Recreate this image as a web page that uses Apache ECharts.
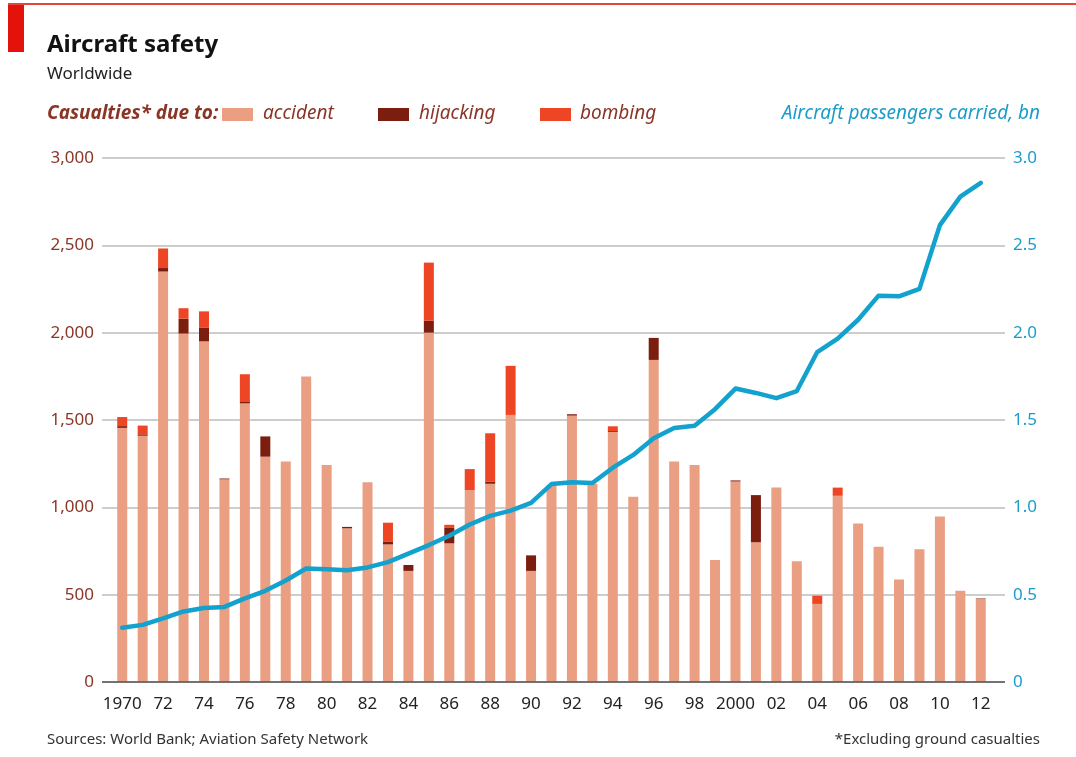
<!DOCTYPE html>
<html>
<head>
<meta charset="utf-8">
<script src="https://cdn.jsdelivr.net/npm/echarts@6/dist/echarts.min.js"></script>
<style>
html,body{margin:0;padding:0;background:#fff;}
#c{width:1076px;height:757px;}
</style>
</head>
<body>
<div id="c"></div>
<script>
const years = [1970,1971,1972,1973,1974,1975,1976,1977,1978,1979,1980,1981,1982,1983,1984,1985,1986,1987,1988,1989,1990,1991,1992,1993,1994,1995,1996,1997,1998,1999,2000,2001,2002,2003,2004,2005,2006,2007,2008,2009,2010,2011,2012];
const accident = [1455,1410,2350,1995,1950,1160,1595,1290,1263,1749,1243,880,1143,788,636,2000,794,1099,1135,1529,636,1125,1525,1135,1432,1060,1844,1263,1243,699,1148,800,1113,691,447,1066,908,774,587,760,947,522,475];
const hijacking = [10,8,20,85,80,5,12,116,0,0,0,8,0,14,34,68,88,0,13,0,89,0,8,0,5,0,126,0,0,0,6,270,0,0,0,0,0,0,0,0,0,0,3];
const bombing = [52,50,112,60,92,0,155,0,0,0,0,0,0,110,0,333,18,120,276,281,0,0,0,0,27,0,0,0,0,0,0,0,0,0,47,47,0,0,0,0,0,0,0];
const passengers = [0.311,0.327,0.364,0.404,0.424,0.430,0.479,0.522,0.581,0.650,0.646,0.640,0.656,0.686,0.735,0.784,0.837,0.902,0.951,0.981,1.026,1.133,1.144,1.139,1.227,1.300,1.395,1.454,1.467,1.562,1.680,1.655,1.625,1.666,1.889,1.966,2.074,2.212,2.208,2.251,2.616,2.779,2.858];
const leftTicks = [0,500,1000,1500,2000,2500,3000];
const rightTicks = [0,0.5,1.0,1.5,2.0,2.5,3.0];

const FONT = '"Noto Sans", sans-serif';
const C_ACC = '#EA9F82', C_HIJ = '#7B1E0F', C_BOMB = '#EE4624', C_LINE = '#12A2CD';
const C_LEFT = '#8A3526', C_RIGHT = '#1B9CC9';

const chart = echarts.init(document.getElementById('c'), null, {renderer:'canvas'});
const gTop = 158, gBottom = 757-682;
chart.setOption({
  animation:false,
  backgroundColor:'#fff',
  grid:[
    {left:102, right:1076-1005, top:gTop, bottom:gBottom},
    {left:112, right:1076-991, top:gTop, bottom:gBottom}
  ],
  xAxis:[
    {gridIndex:0, type:'value', min:0, max:1, show:true,
     axisLine:{show:false}, axisTick:{show:false}, axisLabel:{show:false}, splitLine:{show:false}},
    {gridIndex:1, type:'category', data:years, boundaryGap:true,
     axisLine:{show:false}, axisTick:{show:false},
     axisLabel:{interval:1, color:'#222', fontFamily:FONT, fontSize:17, margin:14,
       formatter:function(v){ v=+v; return (v===1970||v===2000)? String(v) : String(v%100).padStart(2,'0'); }}}
  ],
  yAxis:[
    {gridIndex:0, type:'value', min:leftTicks[0], max:leftTicks[leftTicks.length-1], interval:500, position:'left',
     axisLine:{show:false}, axisTick:{show:false},
     axisLabel:{color:C_LEFT, fontFamily:FONT, fontSize:17, margin:8,
       formatter:function(v){ return v.toLocaleString('en-US'); }},
     splitLine:{lineStyle:{color:'#bdbdbd', width:1.5}}},
    {gridIndex:0, type:'value', min:rightTicks[0], max:rightTicks[rightTicks.length-1], interval:0.5, position:'right',
     axisLine:{show:false}, axisTick:{show:false}, splitLine:{show:false},
     axisLabel:{color:C_RIGHT, fontFamily:FONT, fontSize:17, margin:8,
       formatter:function(v){ return v===0 ? '0' : v.toFixed(1); }}},
    {gridIndex:1, type:'value', min:0, max:3000, interval:500, show:false, splitLine:{show:false}},
    {gridIndex:1, type:'value', min:0, max:3, interval:0.5, show:false, splitLine:{show:false}}
  ],
  graphic:[
    {type:'rect', shape:{x:8,y:4,width:16,height:48}, style:{fill:'#E3120B'}},
    {type:'rect', shape:{x:8,y:3,width:1068,height:2}, style:{fill:'#E8453A'}},
    {type:'line', shape:{x1:102,y1:682,x2:1005,y2:682}, style:{stroke:'#555', lineWidth:1.5}, z:10},
    {type:'text', left:47, top:33, style:{text:'Aircraft safety', font:'bold 24px '+FONT, fill:'#121212'}},
    {type:'text', left:47, top:66, style:{text:'Worldwide', font:'17px '+FONT, fill:'#222'}},
    {type:'text', left:47, top:104, style:{text:'Casualties* due to:', font:'italic bold 19px '+FONT, fill:C_LEFT}},
    {type:'rect', shape:{x:222,y:108,width:31,height:13}, style:{fill:C_ACC}},
    {type:'text', left:263, top:104, style:{text:'accident', font:'italic 19px '+FONT, fill:C_LEFT}},
    {type:'rect', shape:{x:378,y:108,width:31,height:13}, style:{fill:C_HIJ}},
    {type:'text', left:419, top:104, style:{text:'hijacking', font:'italic 19px '+FONT, fill:C_LEFT}},
    {type:'rect', shape:{x:540,y:108,width:31,height:13}, style:{fill:C_BOMB}},
    {type:'text', left:580, top:104, style:{text:'bombing', font:'italic 19px '+FONT, fill:C_LEFT}},
    {type:'text', right:36, top:104, style:{text:'Aircraft passengers carried, bn', font:'italic 19px '+FONT, fill:C_RIGHT}},
    {type:'text', left:47, top:732, style:{text:'Sources: World Bank; Aviation Safety Network', font:'15px '+FONT, fill:'#333'}},
    {type:'text', right:36, top:732, style:{text:'*Excluding ground casualties', font:'15px '+FONT, fill:'#333'}}
  ],
  series:[
    {name:'accident', type:'bar', stack:'cas', xAxisIndex:1, yAxisIndex:2, data:accident, barWidth:10, itemStyle:{color:C_ACC}},
    {name:'hijacking', type:'bar', stack:'cas', xAxisIndex:1, yAxisIndex:2, data:hijacking, barWidth:10, itemStyle:{color:C_HIJ}},
    {name:'bombing', type:'bar', stack:'cas', xAxisIndex:1, yAxisIndex:2, data:bombing, barWidth:10, itemStyle:{color:C_BOMB}},
    {name:'passengers', type:'line', xAxisIndex:1, yAxisIndex:3, data:passengers, symbol:'none', z:5,
     lineStyle:{color:C_LINE, width:4.5, join:'round', cap:'round'}}
  ]
});
</script>
</body>
</html>
